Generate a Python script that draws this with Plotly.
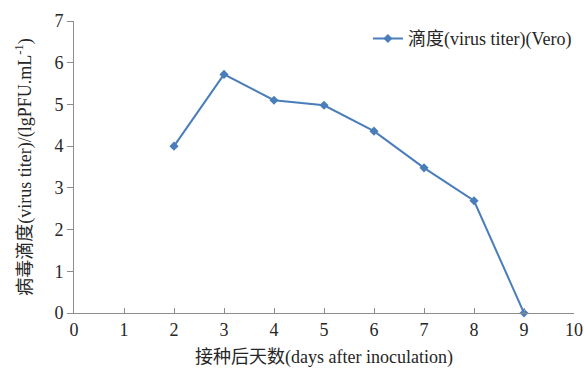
import plotly.graph_objects as go

# Virus titer in Vero cells by day after inoculation
days = [2, 3, 4, 5, 6, 7, 8, 9]
titer = [4.0, 5.72, 5.10, 4.98, 4.36, 3.48, 2.69, 0.0]
x_ticks = list(range(0, 11))
y_ticks = list(range(0, 8))

FONT = "'Liberation Serif', 'Times New Roman', 'Noto Sans CJK SC', serif"
LINE_COLOR = "#4a7ebb"
AXIS_COLOR = "#8c8c8c"
TEXT_COLOR = "#262626"

fig = go.Figure()
fig.add_trace(go.Scatter(
    x=days, y=titer,
    mode="lines+markers",
    name="滴度(virus titer)(Vero)",
    line=dict(color=LINE_COLOR, width=2),
    marker=dict(symbol="diamond", size=7, color=LINE_COLOR),
    cliponaxis=False,
))

fig.update_layout(
    width=584, height=368,
    margin=dict(l=74, r=10, t=21, b=55, autoexpand=False),
    paper_bgcolor="white", plot_bgcolor="white",
    font=dict(family=FONT, size=18, color=TEXT_COLOR),
    showlegend=True,
    legend=dict(
        xref="container", yref="container",
        x=0.63, y=0.945, xanchor="left", yanchor="top",
        itemwidth=30,
        bgcolor="rgba(0,0,0,0)", font=dict(size=18, color=TEXT_COLOR),
    ),
    xaxis=dict(
        range=[0, 10], tickvals=x_ticks, automargin=False,
        showline=True, linecolor=AXIS_COLOR, linewidth=1,
        ticks="inside", ticklen=5, tickcolor=AXIS_COLOR,
        showgrid=False, zeroline=False,
        title=dict(text="接种后天数(days after inoculation)", standoff=11,
                   font=dict(size=18)),
        tickfont=dict(size=18),
    ),
    yaxis=dict(
        range=[0, 7], tickvals=y_ticks, automargin=False,
        showline=True, linecolor=AXIS_COLOR, linewidth=1,
        ticks="outside", ticklen=6, tickcolor=AXIS_COLOR,
        showgrid=False, zeroline=False,
        title=dict(text="病毒滴度(virus titer)/(lgPFU.mL<sup>-1</sup>)", standoff=18,
                   font=dict(size=18)),
        tickfont=dict(size=18),
    ),
)

fig.write_html("out.html")
